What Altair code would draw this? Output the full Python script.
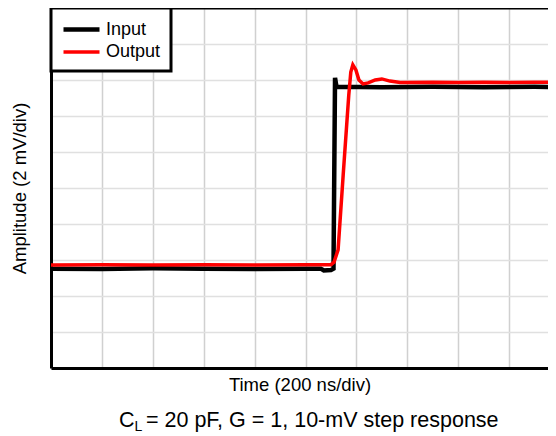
import altair as alt
import pandas as pd

# Time in divisions (200 ns/div), amplitude in divisions (2 mV/div)
input_t = [0.0, 1.0, 2.0, 3.0, 4.0, 5.0, 5.30, 5.36, 5.50, 5.55, 5.58, 5.61, 5.64, 6.5, 7.5, 8.5, 9.5, 10.0]
input_v = [2.76, 2.75, 2.77, 2.76, 2.75, 2.76, 2.76, 2.71, 2.72, 2.76, 8.06, 7.80, 7.81, 7.80, 7.81, 7.80, 7.81, 7.80]

output_t = [0.0, 1.0, 2.0, 3.0, 4.0, 5.0, 5.50, 5.56, 5.64, 5.74, 5.85, 5.89, 5.93, 5.99, 6.05, 6.13, 6.23,
            6.37, 6.50, 6.66, 6.86, 7.5, 8.0, 8.5, 9.0, 9.5, 10.0]
output_v = [2.86, 2.87, 2.86, 2.87, 2.86, 2.87, 2.87, 2.94, 3.28, 5.36, 7.58, 8.22, 8.42, 8.28, 8.00, 7.89, 7.92,
            8.00, 8.03, 7.97, 7.93, 7.94, 7.93, 7.94, 7.93, 7.94, 7.93]

series_names = ["Input", "Output"]
series_colors = ["black", "red"]
series_widths = [4.5, 3.5]

x_ticks = [0, 1, 2, 3, 4, 5, 6, 7, 8, 9]
y_ticks = [0, 1, 2, 3, 4, 5, 6, 7, 8, 9, 10]

df = pd.concat([
    pd.DataFrame({"t": input_t, "v": input_v, "series": "Input"}),
    pd.DataFrame({"t": output_t, "v": output_v, "series": "Output"}),
])

FONT = "Liberation Sans"
PLOT_W = 497
PLOT_H = 360

lines = alt.Chart(df).mark_line(clip=True).encode(
    x=alt.X("t:Q", scale=alt.Scale(domain=[0, 9.764], nice=False, zero=False),
            axis=alt.Axis(values=x_ticks, labels=False, ticks=False, domainColor="black", domainWidth=3,
                          gridColor="#d0d0d0", gridWidth=1.5, title="Time (200 ns/div)", titlePadding=7,
                          titleFontSize=18.5)),
    y=alt.Y("v:Q", scale=alt.Scale(domain=[0, 10], nice=False),
            axis=alt.Axis(values=y_ticks, labels=False, ticks=False, domainColor="black", domainWidth=3,
                          gridColor="#e0e0e0", gridWidth=1.5, title="Amplitude (2 mV/div)", titlePadding=22,
                          titleFontSize=18.5)),
    color=alt.Color("series:N", scale=alt.Scale(domain=series_names, range=series_colors),
                    legend=alt.Legend(title=None, orient="top-left")),
    strokeWidth=alt.StrokeWidth("series:N", scale=alt.Scale(domain=series_names, range=series_widths), legend=None),
)

top_border = alt.Chart(pd.DataFrame({"k": [0]})).mark_rule(color="black", strokeWidth=3).encode(
    x=alt.value(0), x2=alt.value(PLOT_W), y=alt.value(0)
)

cap = pd.DataFrame({"k": [0]})
cap_c = alt.Chart(cap).mark_text(font=FONT, fontSize=21.5, align="left", baseline="alphabetic", color="black").encode(
    x=alt.value(68), y=alt.value(419), text=alt.value("C"))
cap_l = alt.Chart(cap).mark_text(font=FONT, fontSize=14, align="left", baseline="alphabetic", color="black").encode(
    x=alt.value(83.5), y=alt.value(423), text=alt.value("L"))
cap_rest = alt.Chart(cap).mark_text(font=FONT, fontSize=21.5, align="left", baseline="alphabetic", color="black").encode(
    x=alt.value(95), y=alt.value(419), text=alt.value("= 20 pF, G = 1, 10-mV step response"))

chart = alt.layer(lines, top_border, cap_c, cap_l, cap_rest).properties(
    width=PLOT_W, height=PLOT_H,
    autosize=alt.AutoSizeParams(type="none"),
    padding={"left": 43, "top": 0, "right": 0, "bottom": 68},
).configure_view(stroke=None).configure_axis(
    titleFont=FONT, titleFontWeight="normal", titleColor="black"
).configure_legend(
    strokeColor="black", strokeWidth=3, fillColor="white", padding=10, offset=0,
    symbolType="M-1,0H3", symbolSize=324, symbolStrokeWidth=3,
    labelFont=FONT, labelFontSize=18, labelColor="black", labelOffset=22, rowPadding=2,
)

chart.save("out.html", embed_options={"renderer": "svg", "actions": False})
